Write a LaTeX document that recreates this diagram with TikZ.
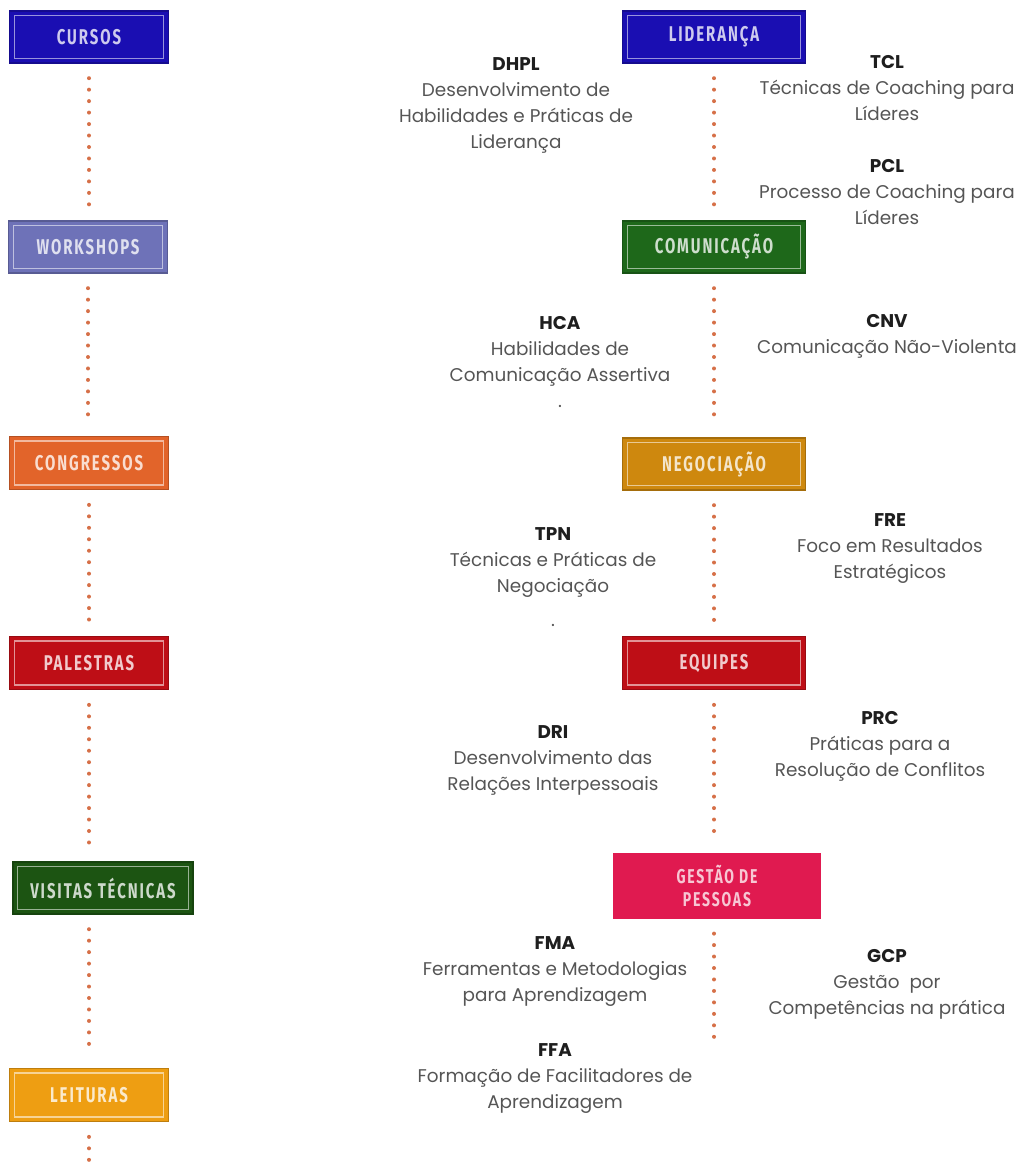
\documentclass[tikz,border=0pt]{standalone}
\usepackage{fontspec}
\setmainfont{Poppins}
\newfontfamily\rotulo[FakeStretch=0.7,LetterSpace=9]{Fira Sans}
\usepackage{tikz}
\usetikzlibrary{calc}

\definecolor{azulC}{RGB}{26,14,178}
\definecolor{lavanda}{RGB}{110,114,184}
\definecolor{laranja}{RGB}{226,100,42}
\definecolor{vermelho}{RGB}{190,14,22}
\definecolor{verdeV}{RGB}{28,84,18}
\definecolor{amarelo}{RGB}{238,158,18}
\definecolor{verdeC}{RGB}{30,104,26}
\definecolor{ocre}{RGB}{206,136,14}
\definecolor{carmim}{RGB}{224,26,80}
\definecolor{corponto}{RGB}{214,112,72}
\definecolor{cortexto}{RGB}{85,85,85}
\definecolor{corsigla}{RGB}{30,30,30}

\tikzset{
  tema/.style={fill=#1, draw=#1!80!black, line width=0.8pt, text=white!78!#1,
    font=\rotulo\bfseries\fontsize{16}{18}\selectfont, inner sep=0pt,
    path picture={\draw [white!55!#1, line width=0.8pt]
      ($(path picture bounding box.south west)+(3.5pt,3.5pt)$) rectangle
      ($(path picture bounding box.north east)+(-3.5pt,-3.5pt)$);}},
  esq/.style={minimum width=119pt, minimum height=39pt},
  dir/.style={minimum width=137pt, minimum height=39pt},
  bloco/.style={align=center, text=cortexto, font=\fontsize{13.8}{19.5}\selectfont},
  pontos/.style={corponto, line width=3pt, line cap=round, dash pattern=on 0pt off 8.6pt,
    shorten <=11pt, shorten >=11pt}
}
\newcommand{\sigla}[1]{{\bfseries\color{corsigla}#1}}

\begin{document}
\begin{tikzpicture}[x=0.75pt,y=-0.75pt]

\useasboundingbox (0,0) rectangle (1028,1163);

% left column
\node [tema=azulC, esq] (cursos) at (89,37) {CURSOS};
\node [tema=lavanda, esq] (workshops) at (88,247) {WORKSHOPS};
\node [tema=laranja, esq, minimum height=40pt] (congressos) at (89,463) {CONGRESSOS};
\node [tema=vermelho, esq, minimum height=40pt] (palestras) at (89,663) {PALESTRAS};
\node [tema=verdeV, esq, minimum width=135pt] (visitas) at (103,888) {VISITAS TÉCNICAS};
\node [tema=amarelo, esq, minimum height=40pt] (leituras) at (89,1095) {LEITURAS};
\coordinate (fimleituras) at (89,1175);

% right column
\node [tema=azulC, dir] (lideranca) at (714,37) {LIDERANÇA};
\node [tema=verdeC, dir] (comunicacao) at (714,247) {COMUNICAÇÃO};
\node [tema=ocre, dir] (negociacao) at (714,464) {NEGOCIAÇÃO};
\node [tema=vermelho, dir, minimum height=40pt] (equipes) at (714,663) {EQUIPES};
\node [fill=carmim, text=white!75!carmim, minimum width=156pt, minimum height=49pt,
  align=center, inner sep=0pt, font=\rotulo\bfseries\fontsize{15}{17}\selectfont] (gestao) at (717,886) {GESTÃO DE\\PESSOAS};
\coordinate (fimgestao) at (714,1062);

\foreach \a/\b in {cursos/workshops, workshops/congressos, congressos/palestras,
  palestras/visitas, lideranca/comunicacao, comunicacao/negociacao,
  negociacao/equipes, equipes/gestao}
  {\draw [pontos] (\a.south) -- (\a.south |- \b.north);}
\draw [pontos] (visitas.south -| palestras.south) -- (palestras.south |- leituras.north);
\draw [pontos] (leituras.south) -- (fimleituras);
\draw [pontos] (gestao.south -| equipes.south) -- (fimgestao);

% course blocks
\node [bloco] (dhpl) at (516,105) {\sigla{DHPL}\\Desenvolvimento de\\Habilidades e Práticas de\\Liderança};
\node [bloco] (tcl) at (887,88) {\sigla{TCL}\\Técnicas de Coaching para\\Líderes};
\node [bloco] (pcl) at (887,192) {\sigla{PCL}\\Processo de Coaching para\\Líderes};
\node [bloco] (hca) at (560,362) {\sigla{HCA}\\Habilidades de\\Comunicação Assertiva\\.};
\node [bloco] (cnv) at (887,336) {\sigla{CNV}\\Comunicação Não-Violenta};
\node [bloco] (tpn) at (553,577) {\sigla{TPN}\\Técnicas e Práticas de\\Negociação\\[6pt].};
\node [bloco] (fre) at (890,549) {\sigla{FRE}\\Foco em Resultados\\Estratégicos};
\node [bloco] (dri) at (553,760) {\sigla{DRI}\\Desenvolvimento das\\Relações Interpessoais};
\node [bloco] (prc) at (880,746) {\sigla{PRC}\\Práticas para a\\Resolução de Conflitos};
\node [bloco] (fma) at (555,972) {\sigla{FMA}\\Ferramentas e Metodologias\\para Aprendizagem};
\node [bloco] (gcp) at (887,984) {\sigla{GCP}\\Gestão\ \ por\\Competências na prática};
\node [bloco] (ffa) at (555,1079) {\sigla{FFA}\\Formação de Facilitadores de\\Aprendizagem};

\end{tikzpicture}
\end{document}
